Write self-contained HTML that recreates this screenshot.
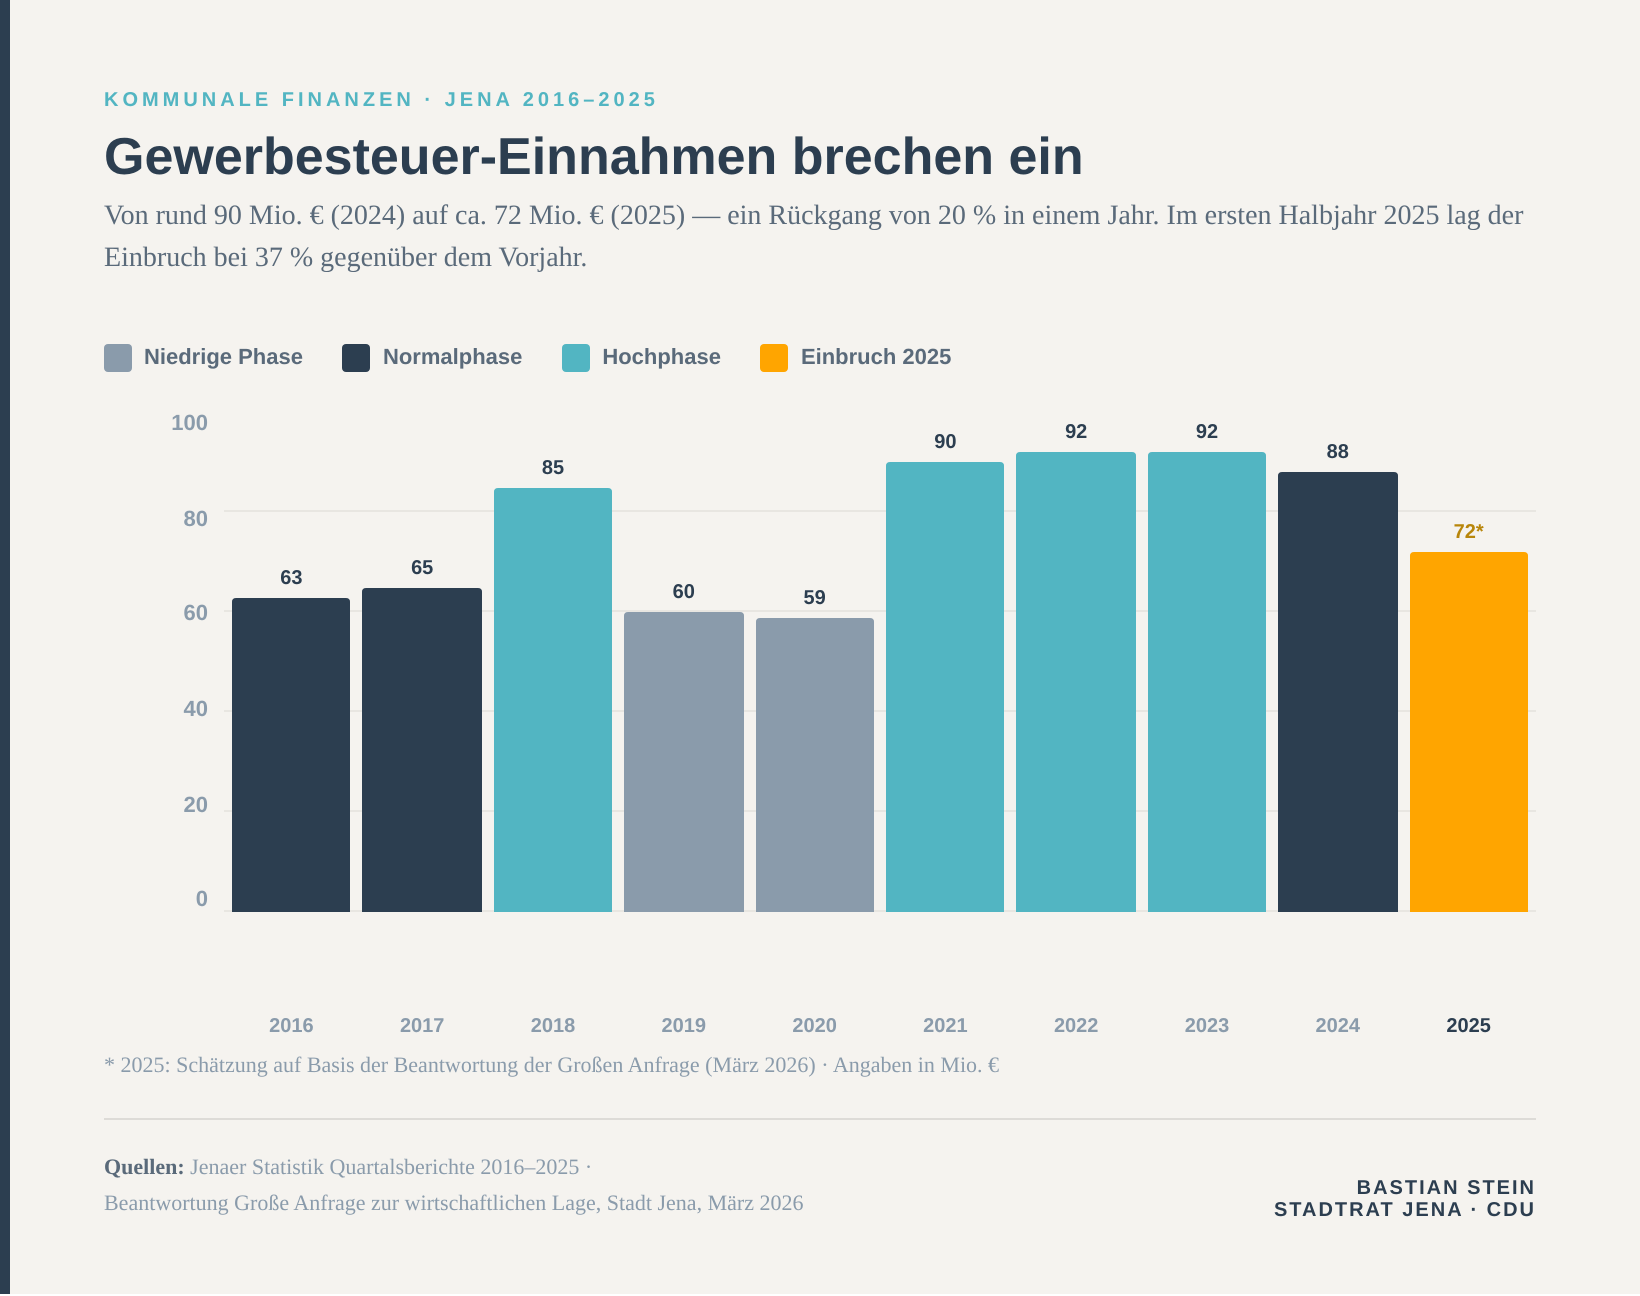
<!DOCTYPE html>
<html lang="de">
<head>
<meta charset="utf-8">
<title>Gewerbesteuer-Einnahmen brechen ein</title>
<style>
  html, body { margin: 0; padding: 0; background: #ffffff; }
  body { width: 1640px; height: 1296px; overflow: hidden; position: relative; text-rendering: geometricPrecision; }
  #page { position: absolute; left: 0; top: 0; width: 1640px; height: 1294px; background: #f5f3ef; overflow: hidden; }
  #accent { position: absolute; left: 0; top: 0; width: 10px; height: 1294px; background: #2c3e50; }
  .t { position: absolute; margin: 0; white-space: nowrap; }
  .sans { font-family: "Liberation Sans", sans-serif; }
  .serif { font-family: "Liberation Serif", serif; }
  #kicker { left: 104px; top: 88px; font-size: 20px; line-height: 24px; font-weight: 700; letter-spacing: 4px; color: #52b5c2; }
  #title { left: 104px; top: 127px; font-size: 52px; line-height: 60px; font-weight: 700; color: #2c3e50; }
  #subtitle { left: 104px; top: 195px; font-size: 28px; line-height: 42px; font-weight: 400; color: #5a6a7a; }
  #legend { position: absolute; left: 104px; top: 344px; height: 28px; display: flex; gap: 40px; }
  .legend-item { display: flex; align-items: center; gap: 12px; font-size: 22px; line-height: 28px; font-weight: 700; color: #5a6a7a; white-space: nowrap; }
  .legend-item > span:last-child { position: relative; top: -1px; }
  .swatch { width: 28px; height: 28px; border-radius: 4px; display: block; }
  .swatch.nudge { margin-left: -1px; margin-right: 1px; }
  #chart { position: absolute; left: 0; top: 0; }
  #footnote { left: 104px; top: 1050px; font-size: 22px; line-height: 30px; color: #8a9bab; }
  #rule { position: absolute; left: 104px; top: 1118px; width: 1432px; height: 2px; background: #dddbd7; }
  #sources { left: 104px; top: 1149px; font-size: 22px; line-height: 36px; color: #8a9bab; }
  #sources b { color: #5a6a7a; font-weight: 700; }
  #credit { right: 104px; top: 1177px; font-size: 20px; line-height: 22px; font-weight: 700; letter-spacing: 2px; color: #2c3e50; text-align: right; }
</style>
</head>
<body>
<div id="page">
  <div id="accent"></div>
  <p id="kicker" class="t sans">KOMMUNALE FINANZEN · JENA 2016–2025</p>
  <h1 id="title" class="t sans">Gewerbesteuer-Einnahmen brechen ein</h1>
  <p id="subtitle" class="t serif">Von rund 90 Mio. € (2024) auf ca. 72 Mio. € (2025) — ein Rückgang von 20 % in einem Jahr. Im ersten Halbjahr 2025 lag der<br>Einbruch bei 37 % gegenüber dem Vorjahr.</p>

  <div id="legend" class="sans">
    <div class="legend-item"><span class="swatch" style="background:#8a9bab"></span><span>Niedrige Phase</span></div>
    <div class="legend-item"><span class="swatch nudge" style="background:#2c3e50"></span><span>Normalphase</span></div>
    <div class="legend-item"><span class="swatch" style="background:#52b5c2"></span><span>Hochphase</span></div>
    <div class="legend-item"><span class="swatch nudge" style="background:#ffa500"></span><span>Einbruch 2025</span></div>
  </div>

  <svg id="chart" width="1640" height="1060" viewBox="0 0 1640 1060" xmlns="http://www.w3.org/2000/svg"></svg>

  <p id="footnote" class="t serif">* 2025: Schätzung auf Basis der Beantwortung der Großen Anfrage (März 2026) · Angaben in Mio. €</p>
  <div id="rule"></div>
  <p id="sources" class="t serif"><b>Quellen:</b> Jenaer Statistik Quartalsberichte 2016–2025 ·<br>Beantwortung Große Anfrage zur wirtschaftlichen Lage, Stadt Jena, März 2026</p>
  <p id="credit" class="t sans">BASTIAN STEIN<br>STADTRAT JENA · CDU</p>
</div>

<script>
const categories = ["2016", "2017", "2018", "2019", "2020", "2021", "2022", "2023", "2024", "2025"];
const values = [62.8, 64.8, 84.8, 60, 58.8, 90, 92, 92, 88, 72];
const phases = ["normal", "normal", "hoch", "niedrig", "niedrig", "hoch", "hoch", "hoch", "normal", "einbruch"];
const valueSuffixes = ["", "", "", "", "", "", "", "", "", "*"];
const yTicks = [100, 80, 60, 40, 20, 0];
const gridTicks = [80, 60, 40, 20, 0];

const phaseColors = { niedrig: "#8a9bab", normal: "#2c3e50", hoch: "#52b5c2", einbruch: "#ffa500" };
const SVG_NS = "http://www.w3.org/2000/svg";
const FONT = '"Liberation Sans", sans-serif';
const chart = document.getElementById("chart");

const snap = function (v) { return 2 * Math.round(v / 2); };
const plot = { left: 224, right: 1536, inner: 8, gap: 12, base: 912, perUnit: 5 };
const bandWidth = (plot.right - plot.left - 2 * plot.inner - (categories.length - 1) * plot.gap) / categories.length;
const xLeft = function (i) { return plot.left + plot.inner + i * (bandWidth + plot.gap); };
const yScale = function (v) { return plot.base - snap(v * plot.perUnit); };
const yLabelBaseline = function (t) { return snap(906.3 - t * 4.76); };

function addText(content, x, y, size, fill, anchor) {
  const el = document.createElementNS(SVG_NS, "text");
  el.textContent = content;
  el.setAttribute("x", x);
  el.setAttribute("y", y);
  el.setAttribute("font-family", FONT);
  el.setAttribute("font-size", size);
  el.setAttribute("font-weight", "700");
  el.setAttribute("fill", fill);
  el.setAttribute("text-anchor", anchor);
  chart.appendChild(el);
  return el;
}

gridTicks.forEach(function (t) {
  const line = document.createElementNS(SVG_NS, "rect");
  line.setAttribute("x", plot.left);
  line.setAttribute("y", yScale(t) - 2);
  line.setAttribute("width", plot.right - plot.left);
  line.setAttribute("height", 2);
  line.setAttribute("fill", "#e8e6e1");
  
  
  chart.appendChild(line);
});

yTicks.forEach(function (t) {
  const label = addText(String(t), 208, yLabelBaseline(t), 22, "#8a9bab", "end");
  
  
});

categories.forEach(function (cat, i) {
  const x0 = snap(xLeft(i));
  const x1 = snap(xLeft(i) + bandWidth);
  const top = yScale(values[i]);
  const r = 4;
  const bar = document.createElementNS(SVG_NS, "path");
  bar.setAttribute("d", "M" + x0 + " " + plot.base + "V" + (top + r) + "Q" + x0 + " " + top + " " + (x0 + r) + " " + top +
    "H" + (x1 - r) + "Q" + x1 + " " + top + " " + x1 + " " + (top + r) + "V" + plot.base + "Z");
  bar.setAttribute("fill", phaseColors[phases[i]]);
  
  
  chart.appendChild(bar);

  const center = xLeft(i) + bandWidth / 2;
  const isLast = phases[i] === "einbruch";
  const valueLabel = addText(Math.round(values[i]) + valueSuffixes[i], center, top - 14, 20, isLast ? "#b8860b" : "#2c3e50", "middle");
  
  

  const catLabel = addText(cat, center, 1032, 20, isLast ? "#2c3e50" : "#8a9bab", "middle");
  
  
});
</script>
</body>
</html>
